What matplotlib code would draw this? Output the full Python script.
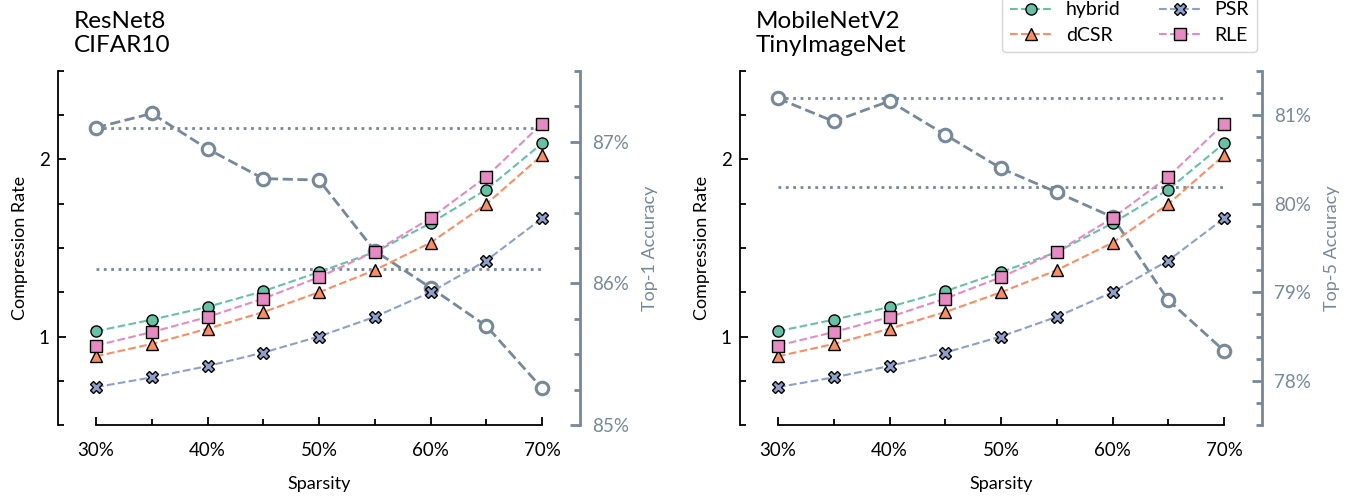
import matplotlib
matplotlib.use("Agg")
import matplotlib.pyplot as plt
from matplotlib.ticker import MultipleLocator, FuncFormatter

plt.rcParams['font.family'] = ['Lato', 'DejaVu Sans']

# ---- data -------------------------------------------------------------
sparsity = [30, 35, 40, 45, 50, 55, 60, 65, 70]

rate_hybrid = [1.03, 1.095, 1.167, 1.256, 1.364, 1.477, 1.640, 1.830, 2.091]
rate_dcsr = [0.888, 0.958, 1.044, 1.138, 1.250, 1.375, 1.530, 1.748, 2.024]
rate_psr = [0.714, 0.769, 0.833, 0.909, 1.000, 1.111, 1.250, 1.429, 1.667]
rate_rle = [0.949, 1.025, 1.110, 1.214, 1.335, 1.479, 1.669, 1.902, 2.203]

acc_resnet8 = [87.10, 87.20, 86.95, 86.74, 86.73, 86.23, 85.97, 85.70, 85.26]
acc_mobilenet = [81.19, 80.93, 81.16, 80.78, 80.40, 80.13, 79.85, 78.91, 78.34]

# dense baseline and baseline minus one point
ref_resnet8 = [87.10, 86.10]
ref_mobilenet = [81.19, 80.19]

titles = ["ResNet8\nCIFAR10", "MobileNetV2\nTinyImageNet"]
acc_labels = ["Top-1 Accuracy", "Top-5 Accuracy"]
acc_limits = [(85.0, 87.5), (77.5, 81.5)]

series_names = ["hybrid", "dCSR", "PSR", "RLE"]
series_values = [rate_hybrid, rate_dcsr, rate_psr, rate_rle]
series_colors = ["#66c2a5", "#fc8d62", "#8da0cb", "#e78ac3"]
series_markers = ["o", "^", "X", "s"]

GRAY = "#778899"
W, H = 1364, 499

fig = plt.figure(figsize=(W / 100, H / 100), dpi=100)


def add_axes(x0, x1, y0, y1):
    return fig.add_axes([x0 / W, 1 - y1 / H, (x1 - x0) / W, (y1 - y0) / H])


pct = FuncFormatter(lambda v, _: f"{v:.0f}%")
plain = FuncFormatter(lambda v, _: f"{v:g}")

panel_x = [(73.7, 564.3), (755.7, 1246.3)]
accs = [acc_resnet8, acc_mobilenet]
refs = [ref_resnet8, ref_mobilenet]

handles = []
for i in range(2):
    ax = add_axes(panel_x[i][0], panel_x[i][1], 71, 425)
    ax2 = ax.twinx()
    ax.set_zorder(ax2.get_zorder() + 1)
    ax.patch.set_visible(False)

    # accuracy on the secondary axis
    ax2.hlines(refs[i], 30, 70, colors=GRAY, linestyles=":", lw=2)
    ax2.plot(sparsity, accs[i], ls="--", lw=2, color=GRAY, marker="o",
             ms=9, mfc="white", mec=GRAY, mew=2.2)

    # compression rates
    hs = []
    for name, vals, c, m in zip(series_names, series_values, series_colors, series_markers):
        h, = ax.plot(sparsity, vals, ls="--", lw=1.5, color=c, marker=m,
                     ms=8.5 if m == "X" else 8, mfc=c, mec="black", mew=1,
                     label=name)
        hs.append(h)
    handles = hs

    ax.set_xlim(28, 72)
    ax.set_ylim(0.5, 2.5)
    ax2.set_ylim(*acc_limits[i])

    # spines
    for s in ("top", "right"):
        ax.spines[s].set_visible(False)
    ax.spines["left"].set_position(("outward", 11.3))
    ax.spines["bottom"].set_bounds(30, 70)
    ax.spines["left"].set_linewidth(1.3)
    ax.spines["bottom"].set_linewidth(1.3)
    for s in ("top", "left", "bottom"):
        ax2.spines[s].set_visible(False)
    ax2.spines["right"].set_position(("outward", 11.3))
    ax2.spines["right"].set_color(GRAY)
    ax2.spines["right"].set_linewidth(2)

    # ticks
    ax.xaxis.set_major_locator(MultipleLocator(10))
    ax.xaxis.set_minor_locator(MultipleLocator(5))
    ax.xaxis.set_major_formatter(pct)
    ax.yaxis.set_major_locator(MultipleLocator(1))
    ax.yaxis.set_minor_locator(MultipleLocator(0.25))
    ax.yaxis.set_major_formatter(plain)
    ax.tick_params(axis="both", which="both", direction="in", width=1.3)
    ax.tick_params(axis="both", which="major", length=6, labelsize=13.5)
    ax.tick_params(axis="both", which="minor", length=4)
    ax.tick_params(axis="x", which="major", pad=12.5)
    ax.tick_params(axis="y", which="major", pad=6)

    ax2.yaxis.set_major_locator(MultipleLocator(1))
    ax2.yaxis.set_minor_locator(MultipleLocator(0.25))
    ax2.yaxis.set_major_formatter(pct)
    ax2.tick_params(axis="y", which="both", direction="in", color=GRAY,
                    labelcolor=GRAY, width=2)
    ax2.tick_params(axis="y", which="major", length=7, labelsize=13.5, pad=9)
    ax2.tick_params(axis="y", which="minor", length=4)

    ax.set_xlabel("Sparsity", fontsize=13, labelpad=12)
    ax.set_ylabel("Compression Rate", fontsize=13, labelpad=8)
    ax2.set_ylabel(acc_labels[i], fontsize=13, color=GRAY, labelpad=9)

    ax.set_title(titles[i], loc="left", fontsize=17.5, pad=14, linespacing=1.15)

fig.legend(handles, series_names, ncol=2, loc="lower right",
           bbox_to_anchor=(1257 / W, 1 - 52 / H), fontsize=14,
           borderaxespad=0, handlelength=2.1, columnspacing=2.0,
           handletextpad=0.75, labelspacing=0.45)

fig.savefig("out.png", dpi=100)
